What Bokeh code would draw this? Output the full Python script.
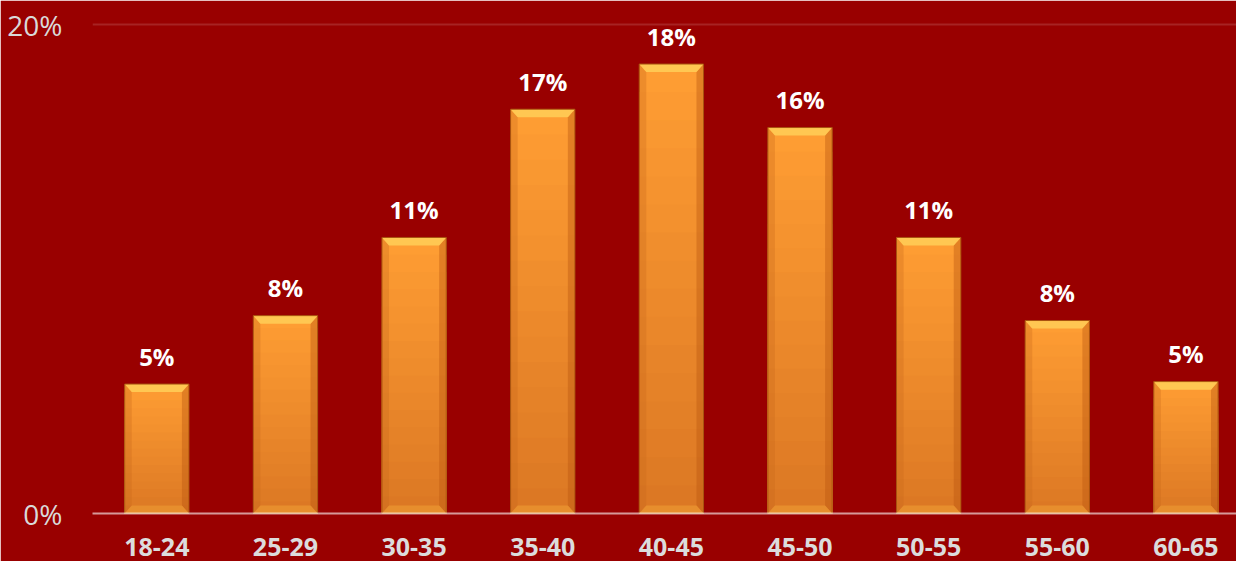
import numpy as np
from bokeh.plotting import figure
from bokeh.models import Range1d, FixedTicker, ColumnDataSource
from bokeh.core.properties import value
from bokeh.embed import file_html
from bokeh.resources import INLINE

# ---- data ----
categories = ["18-24", "25-29", "30-35", "35-40", "40-45", "45-50", "50-55", "55-60", "60-65"]
shares = [5.3, 8.1, 11.3, 16.55, 18.4, 15.8, 11.3, 7.9, 5.4]
y_ticks = [0, 20]
y_tick_labels = ["0%", "20%"]

BG = "#990000"
FONT = "Open Sans"

n = len(categories)
centers = [i + 0.5 for i in range(n)]
bar_w = 0.5

p = figure(width=1236, height=561, output_backend="svg", toolbar_location=None,
           x_range=Range1d(0, 8.893), y_range=Range1d(0, 20.1),
           min_border_left=92, min_border_right=0, min_border_top=22, min_border_bottom=48)
p.background_fill_color = BG
p.border_fill_color = BG
p.outline_line_color = BG
p.outline_line_width = 2

# gradient body: overlapping bars from the base, tallest first
n_slices = 16
top_rgb = np.array([0xff, 0x9e, 0x33])
bot_rgb = np.array([0xdb, 0x77, 0x24])
qx0, qx1, qt, qc = [], [], [], []
for k in range(n_slices - 1, -1, -1):
    f1 = (k + 1) / n_slices
    t = 1 - (k + 0.5) / n_slices
    rgb = top_rgb * (1 - t) + bot_rgb * t
    col = "#%02x%02x%02x" % tuple(int(round(x)) for x in rgb)
    for c, v in zip(centers, shares):
        qx0.append(c - bar_w / 2)
        qx1.append(c + bar_w / 2)
        qt.append(v * f1)
        qc.append(col)
p.quad(left=qx0, right=qx1, bottom=0, top=qt, fill_color=qc, line_color=None)

# bevels
dx = 0.055
dy = 0.33
top_xs, top_ys, bot_xs, bot_ys, l_xs, l_ys, r_xs, r_ys = [], [], [], [], [], [], [], []
for c, v in zip(centers, shares):
    x0, x1 = c - bar_w / 2, c + bar_w / 2
    top_xs.append([x0, x1, x1 - dx, x0 + dx])
    top_ys.append([v, v, v - dy, v - dy])
    bot_xs.append([x0, x1, x1 - dx, x0 + dx])
    bot_ys.append([0, 0, dy, dy])
    l_xs.append([x0, x0 + dx, x0 + dx, x0])
    l_ys.append([0, dy, v - dy, v])
    r_xs.append([x1, x1 - dx, x1 - dx, x1])
    r_ys.append([0, dy, v - dy, v])
p.patches(l_xs, l_ys, fill_color="#c8661c", fill_alpha=0.3, line_color=None)
p.patches(r_xs, r_ys, fill_color="#b8560f", fill_alpha=0.4, line_color=None)
p.patches(top_xs, top_ys, fill_color="#ffc954", fill_alpha=0.95, line_color=None)
p.patches(bot_xs, bot_ys, fill_color="#e8902f", fill_alpha=0.9, line_color=None)
p.vbar(x=centers, top=shares, width=bar_w, fill_color=None, line_color="#a8520f", line_width=1)

# data labels
src = ColumnDataSource(dict(x=centers, y=shares, t=[f"{round(v)}%" for v in shares]))
p.text(x="x", y="y", text="t", source=src, text_font=value(FONT), text_font_style="bold",
       text_font_size="24px", text_color="white", text_align="center",
       text_baseline="middle", y_offset=-28)

# axes
p.xaxis.ticker = FixedTicker(ticks=centers)
p.xaxis.major_label_overrides = {c: lab for c, lab in zip(centers, categories)}
p.xaxis.major_label_text_font = FONT
p.xaxis.major_label_text_font_style = "bold"
p.xaxis.major_label_text_font_size = "25px"
p.xaxis.major_label_text_color = "#dcdcdc"
p.xaxis.major_label_standoff = 24
p.xaxis.major_tick_out = 0
p.xaxis.major_tick_in = 0
p.xaxis.minor_tick_out = 0
p.xaxis.minor_tick_in = 0
p.xaxis.major_tick_line_color = None
p.xaxis.minor_tick_line_color = None
p.xaxis.axis_line_color = "white"
p.xaxis.axis_line_alpha = 0.6
p.xaxis.axis_line_width = 2

p.yaxis.ticker = FixedTicker(ticks=y_ticks)
p.yaxis.major_label_overrides = {t: lab for t, lab in zip(y_ticks, y_tick_labels)}
p.yaxis.major_label_text_font = FONT
p.yaxis.major_label_text_font_size = "28px"
p.yaxis.major_label_text_color = "#d9d9d9"
p.yaxis.major_label_standoff = 30
p.yaxis.major_tick_out = 0
p.yaxis.major_tick_in = 0
p.yaxis.minor_tick_out = 0
p.yaxis.minor_tick_in = 0
p.yaxis.major_tick_line_color = None
p.yaxis.minor_tick_line_color = None
p.yaxis.axis_line_color = None

p.xgrid.grid_line_color = None
p.ygrid.ticker = FixedTicker(ticks=[20])
p.ygrid.grid_line_color = "#b03a3a"
p.ygrid.grid_line_alpha = 0.6
p.ygrid.grid_line_width = 2

open("out.html", "w").write(file_html(p, INLINE))
